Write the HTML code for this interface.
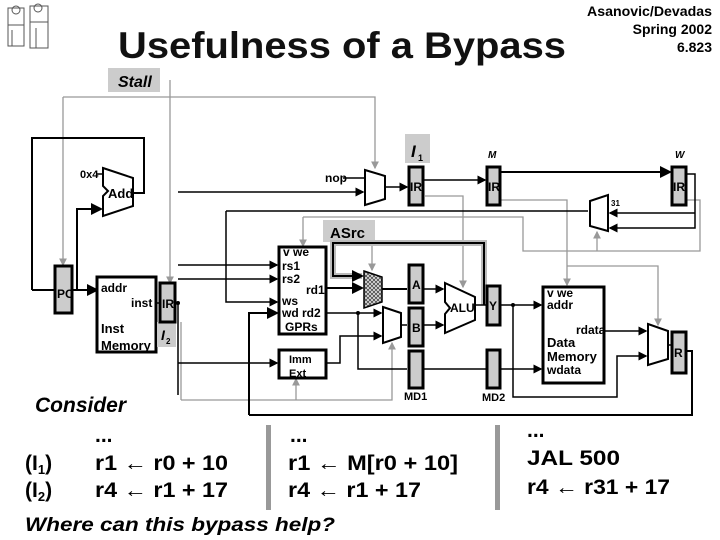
<!DOCTYPE html>
<html><head><meta charset="utf-8"><style>
html,body{margin:0;padding:0;background:#fff;}
svg{display:block;}
text{font-family:"Liberation Sans",Arial,sans-serif;font-weight:bold;}
</style></head><body>
<svg width="720" height="540" viewBox="0 0 720 540" xmlns="http://www.w3.org/2000/svg">
<defs>
<marker id="a" markerWidth="6" markerHeight="6" refX="5" refY="3" orient="auto"><path d="M0,0 L6,3 L0,6 z" fill="#000"/></marker>
<marker id="g" markerWidth="6" markerHeight="6" refX="5" refY="3" orient="auto"><path d="M0,0 L6,3 L0,6 z" fill="#999"/></marker>
<pattern id="h" width="4" height="4" patternUnits="userSpaceOnUse"><rect width="4" height="4" fill="#ddd"/><path d="M0,2 L2,0 L4,2 L2,4z" fill="none" stroke="#333" stroke-width="0.7"/></pattern>
</defs>
<!-- icon -->
<g stroke="#555" fill="none" stroke-width="1">
<rect x="8" y="8" width="16" height="38"/><rect x="30" y="6" width="18" height="42"/>
<circle cx="16" cy="10" r="4"/><circle cx="38" cy="8" r="4"/>
<path d="M8,25 L24,25 M30,22 L48,22 M12,46 L12,30 M36,48 L36,28"/>
</g>
<text x="118" y="58" font-size="37" fill="#111" textLength="448" lengthAdjust="spacingAndGlyphs">Usefulness of a Bypass</text>
<text x="712" y="16" font-size="14" text-anchor="end" textLength="125" lengthAdjust="spacingAndGlyphs">Asanovic/Devadas</text>
<text x="712" y="34" font-size="14" text-anchor="end">Spring 2002</text>
<text x="712" y="52" font-size="14" text-anchor="end">6.823</text>
<rect x="108" y="68" width="52" height="24" fill="#ccc"/>
<text x="118" y="87" font-size="16" font-style="italic">Stall</text>

<!-- gray control lines -->
<g stroke="#999" fill="none" stroke-width="1.3">
<path d="M63,97 L375,97 L375,168" marker-end="url(#g)"/>
<path d="M63,97 L63,265" marker-end="url(#g)"/>
<path d="M170,80 L170,283" marker-end="url(#g)"/>
<path d="M425,196 L463,196 L463,287" marker-end="url(#g)"/>
<path d="M501,200 L567,200 L567,285" marker-end="url(#g)"/>
<path d="M303,217 L523,217 L523,251 L700,251 L700,200 L686,200"/>
<path d="M303,217 L303,246" marker-end="url(#g)"/>
<path d="M597,251 L597,232" marker-end="url(#g)"/>
<path d="M567,266 L658,266 L658,325" marker-end="url(#g)"/>
<path d="M372,240 L372,270" marker-end="url(#g)"/>
<path d="M181,400 L392,400 L392,343" marker-end="url(#g)"/>
<path d="M296,400 L296,379" marker-end="url(#g)"/>
<path d="M181,322 L181,400"/>
</g>
<!-- ASrc -->
<rect x="323" y="220" width="52" height="22" fill="#ccc"/>
<text x="330" y="238" font-size="15">ASrc</text>
<path d="M484,305 L484,243 L333,243 L333,276 L362,276" stroke="#bbb" stroke-width="6" fill="none"/>
<path d="M484,305 L484,243 L333,243 L333,276 L362,276" stroke="#000" stroke-width="2" fill="none" marker-end="url(#a)"/>

<!-- black wires -->
<g stroke="#000" fill="none" stroke-width="1.5">
<path d="M32,290 L32,138 L144,138 L144,193 L133,193" stroke-width="2"/>
<path d="M32,290 L55,290" stroke-width="2"/>
<path d="M72,290 L97,290" marker-end="url(#a)" stroke-width="2"/>
<path d="M77,290 L77,209 L101,209" marker-end="url(#a)" stroke-width="2"/>
<path d="M96,174 L103,174"/>
<path d="M156,303 L160,303"/>
<path d="M175,303 L178,303 L178,395"/>
<path d="M178,192 L363,192" marker-end="url(#a)"/>
<path d="M178,265 L277,265" marker-end="url(#a)"/>
<path d="M178,279 L277,279" marker-end="url(#a)"/>
<path d="M178,363 L277,363" marker-end="url(#a)"/>
<path d="M226,211 L226,302 L277,302" marker-end="url(#a)"/>
<path d="M226,211 L588,211"/>
<path d="M343,178 L365,178"/>
<path d="M385,187 L407,187" marker-end="url(#a)"/>
<path d="M424,180 L485,180" marker-end="url(#a)"/>
<path d="M501,172 L670,172" marker-end="url(#a)" stroke-width="2"/>
<path d="M686,174 L695,174 L695,228 L610,228" marker-end="url(#a)"/>
<path d="M695,213 L610,213" marker-end="url(#a)"/>
<path d="M249,415 L249,313 L277,313" marker-end="url(#a)" stroke-width="2"/>
<path d="M326,288 L362,288" marker-end="url(#a)" stroke-width="2"/>
<path d="M382,289 L407,289" stroke-width="2"/>
<path d="M326,313 L381,313" marker-end="url(#a)"/>
<path d="M358,313 L358,369 L407,369"/>
<path d="M326,363 L340,363 L340,336 L381,336" marker-end="url(#a)"/>
<path d="M401,325 L407,325"/>
<path d="M423,289 L443,289" marker-end="url(#a)"/>
<path d="M423,325 L443,325" marker-end="url(#a)"/>
<path d="M475,305 L487,305"/>
<path d="M500,305 L541,305" marker-end="url(#a)"/>
<path d="M513,305 L513,397 L617,397 L617,356 L646,356" marker-end="url(#a)"/>
<path d="M423,369 L487,369"/>
<path d="M500,369 L541,369" marker-end="url(#a)"/>
<path d="M604,331 L646,331" marker-end="url(#a)"/>
<path d="M668,345 L672,345"/>
<path d="M686,351 L692,351 L692,415 L249,415" stroke-width="2"/>
</g>
<circle cx="358" cy="313" r="2"/><circle cx="513" cy="305" r="2"/><circle cx="178" cy="303" r="2"/>

<!-- Add -->
<path d="M103,168 L133,178 L133,206 L103,216 L103,196 L108,191 L103,186 Z" fill="#fff" stroke="#000" stroke-width="2"/>
<text x="108" y="198" font-size="13" font-weight="normal">Add</text>
<text x="80" y="178" font-size="11" font-weight="normal">0x4</text>
<!-- PC -->
<rect x="55" y="266" width="17" height="47" fill="#ccc" stroke="#000" stroke-width="3"/>
<text x="57" y="298" font-size="12" font-weight="normal">PC</text>
<!-- Inst mem -->
<rect x="97" y="277" width="59" height="75" fill="#fff" stroke="#000" stroke-width="3"/>
<text x="101" y="292" font-size="12" font-weight="normal">addr</text>
<text x="131" y="307" font-size="12" font-weight="normal">inst</text>
<text x="101" y="333" font-size="13">Inst</text>
<text x="101" y="350" font-size="13">Memory</text>
<rect x="157" y="322" width="19" height="25" fill="#ccc"/>
<text x="161" y="340" font-size="14" font-style="italic">I</text><text x="166" y="344" font-size="8">2</text>
<rect x="160" y="283" width="15" height="39" fill="#ccc" stroke="#000" stroke-width="3"/>
<text x="162" y="308" font-size="12" font-weight="normal">IR</text>
<!-- GPRs -->
<rect x="279" y="247" width="47" height="87" fill="#fff" stroke="#000" stroke-width="3"/>
<g font-size="12" font-weight="normal">
<text x="283" y="256">v  we</text><text x="282" y="270">rs1</text><text x="282" y="283">rs2</text>
<text x="306" y="294">rd1</text><text x="282" y="305">ws</text><text x="282" y="317">wd  rd2</text>
<text x="285" y="331">GPRs</text>
</g>
<rect x="279" y="350" width="47" height="28" fill="#fff" stroke="#000" stroke-width="3"/>
<text x="289" y="363" font-size="11" font-weight="normal">Imm</text>
<text x="289" y="377" font-size="11" font-weight="normal">Ext</text>
<!-- top mux, nop -->
<text x="325" y="182" font-size="12">nop</text>
<path d="M365,170 L385,176 L385,199 L365,205 Z" fill="#fff" stroke="#000" stroke-width="2"/>
<rect x="405" y="134" width="25" height="29" fill="#ccc"/>
<text x="411" y="157" font-size="17" font-style="italic">I</text><text x="418" y="161" font-size="9">1</text>
<text x="488" y="158" font-size="10" font-style="italic">M</text>
<text x="675" y="158" font-size="10" font-style="italic">W</text>
<g fill="#ccc" stroke="#000" stroke-width="3">
<rect x="409" y="167" width="14" height="38"/><rect x="487" y="167" width="13" height="38"/><rect x="672" y="167" width="14" height="38"/>
<rect x="409" y="265" width="14" height="38"/><rect x="409" y="308" width="14" height="38"/><rect x="409" y="351" width="14" height="37"/>
<rect x="487" y="286" width="13" height="39"/><rect x="487" y="350" width="13" height="38"/><rect x="672" y="332" width="14" height="41"/>
</g>
<g font-size="12" font-weight="normal">
<text x="410" y="191">IR</text><text x="488" y="191">IR</text><text x="673" y="191">IR</text>
<text x="412" y="289">A</text><text x="412" y="332">B</text><text x="489" y="310">Y</text><text x="674" y="357">R</text>
<text x="404" y="400" font-size="11">MD1</text><text x="482" y="401" font-size="11">MD2</text>
</g>
<!-- 31 mux -->
<path d="M590,201 L608,195 L608,231 L590,226 Z" fill="#fff" stroke="#000" stroke-width="2"/>
<text x="611" y="206" font-size="8">31</text>
<!-- hatched mux -->
<path d="M364,271 L382,277 L382,302 L364,308 Z" fill="url(#h)" stroke="#000" stroke-width="1.5"/>
<!-- B mux -->
<path d="M383,307 L401,313 L401,337 L383,343 Z" fill="#fff" stroke="#000" stroke-width="2"/>
<!-- ALU -->
<path d="M445,283 L475,297 L475,320 L445,333 L445,314 L450,308 L445,302 Z" fill="#fff" stroke="#000" stroke-width="2"/>
<text x="450" y="312" font-size="12" font-weight="normal">ALU</text>
<!-- data memory -->
<rect x="543" y="287" width="61" height="96" fill="#fff" stroke="#000" stroke-width="3"/>
<g font-size="12" font-weight="normal">
<text x="547" y="297">v  we</text><text x="547" y="309">addr</text><text x="576" y="334">rdata</text>
<text x="547" y="374">wdata</text></g>
<text x="547" y="347" font-size="13">Data</text><text x="547" y="361" font-size="13">Memory</text>
<!-- R mux -->
<path d="M648,324 L668,331 L668,359 L648,365 Z" fill="#fff" stroke="#000" stroke-width="2"/>

<!-- bottom text -->
<text x="35" y="412" font-size="21" font-style="italic">Consider</text>
<g font-size="21">
<text x="95" y="442">...</text><text x="290" y="442">...</text><text x="527" y="437">...</text>
<text x="25" y="470">(I<tspan font-size="13" dy="4">1</tspan><tspan dy="-4">)</tspan></text>
<text x="25" y="497">(I<tspan font-size="13" dy="4">2</tspan><tspan dy="-4">)</tspan></text>
<text x="95" y="470" textLength="133" lengthAdjust="spacingAndGlyphs">r1 ← r0 + 10</text>
<text x="95" y="497" textLength="133" lengthAdjust="spacingAndGlyphs">r4 ← r1 + 17</text>
<text x="288" y="470" textLength="170" lengthAdjust="spacingAndGlyphs">r1 ← M[r0 + 10]</text>
<text x="288" y="497" textLength="133" lengthAdjust="spacingAndGlyphs">r4 ← r1 + 17</text>
<text x="527" y="465" textLength="93" lengthAdjust="spacingAndGlyphs">JAL  500</text>
<text x="527" y="494" textLength="143" lengthAdjust="spacingAndGlyphs">r4 ← r31 + 17</text>
</g>
<rect x="266" y="425" width="5" height="85" fill="#999"/>
<rect x="495" y="425" width="5" height="85" fill="#999"/>
<text x="25" y="531" font-size="19" font-style="italic" textLength="310" lengthAdjust="spacingAndGlyphs">Where can this bypass help?</text>
</svg>
</body></html>
